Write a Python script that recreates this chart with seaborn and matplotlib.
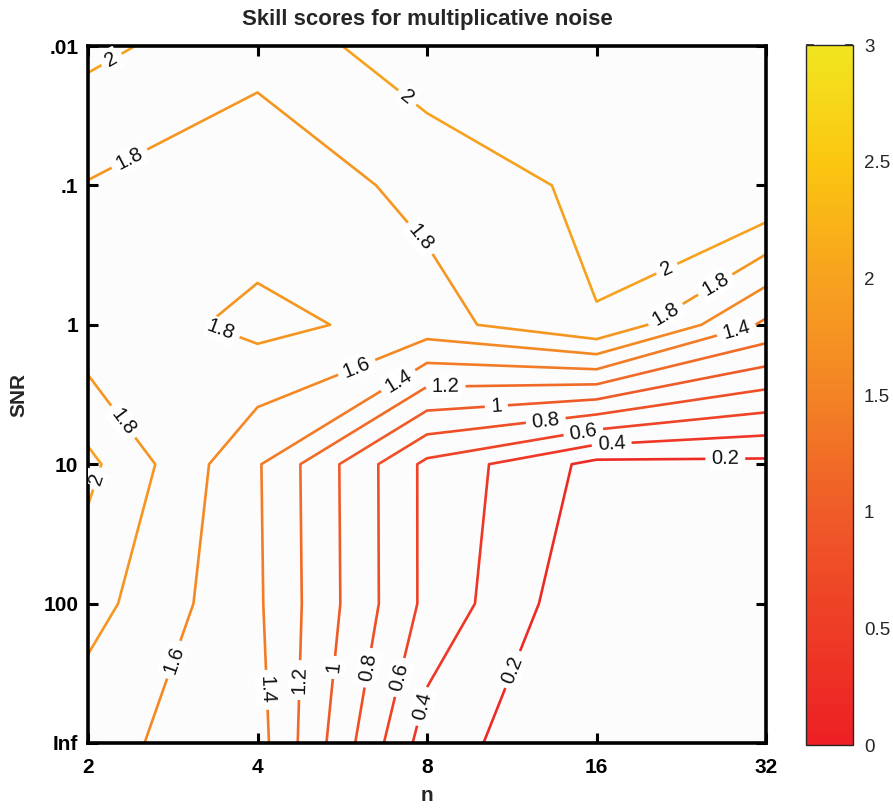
import numpy as np
import pandas as pd
import matplotlib
matplotlib.use("Agg")
import matplotlib.pyplot as plt
from matplotlib.colors import Normalize
from matplotlib.cm import ScalarMappable
import seaborn as sns

# ---------------- data ----------------
n_labels = ["2", "4", "8", "16", "32"]
snr_labels = [".01", ".1", "1", "10", "100", "Inf"]

skill_snr_001 = [2.05, 1.87, 2.13, 2.30, 2.40]
skill_snr_01 = [1.79, 1.66, 1.86, 2.05, 2.23]
skill_snr_1 = [1.66, 1.86, 1.72, 1.99, 1.36]
skill_snr_10 = [2.05, 1.42, 0.55, 0.14, 0.15]
skill_snr_100 = [1.88, 1.43, 0.55, 0.02, 0.02]
skill_snr_inf = [1.66, 1.48, 0.30, 0.00, 0.00]

contour_levels = [0.2, 0.4, 0.6, 0.8, 1.0, 1.2, 1.4, 1.6, 1.8, 2.0]
cbar_ticks = [0, 0.5, 1, 1.5, 2, 2.5, 3]
cbar_tick_labels = ["0", "0.5", "1", "1.5", "2", "2.5", "3"]

df = pd.DataFrame(
    [skill_snr_001, skill_snr_01, skill_snr_1, skill_snr_10, skill_snr_100, skill_snr_inf],
    index=snr_labels, columns=n_labels)

# ---------------- style ----------------
sns.set_style("white")
plt.rcParams["font.family"] = ["Liberation Sans", "DejaVu Sans"]
bold_family = ["Liberation Sans Narrow", "Liberation Sans", "DejaVu Sans"]

cmap = sns.blend_palette(["#ed1f24", "#ee3d26", "#ef5b28", "#f38325",
                          "#f7a21f", "#fbc610", "#f1e620"], as_cmap=True)
norm = Normalize(vmin=0, vmax=3)

W, H = 893, 809
fig = plt.figure(figsize=(W / 100, H / 100), dpi=100)
fig.patch.set_facecolor("white")
ax = fig.add_axes([88 / W, 1 - 743 / H, (766 - 88) / W, (743 - 46) / H])
cax = fig.add_axes([806 / W, 1 - 745 / H, (853 - 806) / W, (745 - 45) / H])
ax.set_facecolor("#fcfcfc")

xi = np.arange(len(n_labels))
yi = np.arange(len(snr_labels))
cs = ax.contour(xi, yi, df.values, levels=contour_levels, cmap=cmap, norm=norm,
                linewidths=1.9)
ax.set_xlim(0, len(n_labels) - 1)
ax.set_ylim(len(snr_labels) - 1, 0)

# contour labels (placement hints in data coords)
label_spots = [(0.15, 0.12), (0.25, 0.82), (1.87, 0.39), (1.95, 1.39),
               (3.42, 1.61), (3.70, 1.71), (3.42, 1.95), (3.82, 2.02),
               (0.78, 2.05), (1.59, 2.32), (1.84, 2.42), (2.11, 2.45),
               (2.41, 2.60), (2.70, 2.68), (2.92, 2.75), (3.09, 2.87),
               (3.76, 2.98), (0.18, 2.72), (0.07, 3.11), (0.50, 4.40),
               (1.03, 4.62), (1.28, 4.55), (1.47, 4.46), (1.65, 4.46),
               (1.84, 4.53), (1.98, 4.74), (2.52, 4.48)]
texts = ax.clabel(cs, manual=label_spots, inline=True, inline_spacing=6,
                  fontsize=14.5, colors="#111111",
                  fmt=lambda v: f"{round(v, 1):g}")
for t in texts:
    t.set_bbox(dict(facecolor="white", edgecolor="none", pad=1.5))

# axes cosmetics
ax.set_xticks(xi)
ax.set_xticklabels(n_labels)
ax.set_yticks(yi)
ax.set_yticklabels(snr_labels)
for lab in ax.get_xticklabels() + ax.get_yticklabels():
    lab.set_fontfamily(bold_family)
    lab.set_fontweight("bold")
    lab.set_fontsize(15)
ax.tick_params(axis="both", direction="in", length=7, width=2.2,
               top=True, right=True, bottom=True, left=True, colors="black")
ax.tick_params(axis="x", pad=11)
ax.tick_params(axis="y", pad=7)
for sp in ax.spines.values():
    sp.set_linewidth(2.6)
    sp.set_color("black")

ax.set_title("Skill scores for multiplicative noise", fontsize=16,
             fontweight="bold", family=bold_family, pad=15)
ax.set_xlabel("n", fontsize=15, fontweight="bold", family=bold_family)
ax.set_ylabel("SNR", fontsize=15, fontweight="bold", family=bold_family)
ax.xaxis.set_label_coords(0.5, -0.062)
ax.yaxis.set_label_coords(-0.088, 0.5)

# colorbar
cb = fig.colorbar(ScalarMappable(norm=norm, cmap=cmap), cax=cax, ticks=cbar_ticks)
cb.ax.set_yticklabels(cbar_tick_labels)
cb.outline.set_linewidth(1.0)
cb.ax.tick_params(direction="in", length=6, width=1.2, left=True, right=True,
                  labelsize=13.5, pad=8)

fig.savefig("out.png", dpi=100, facecolor="white")
